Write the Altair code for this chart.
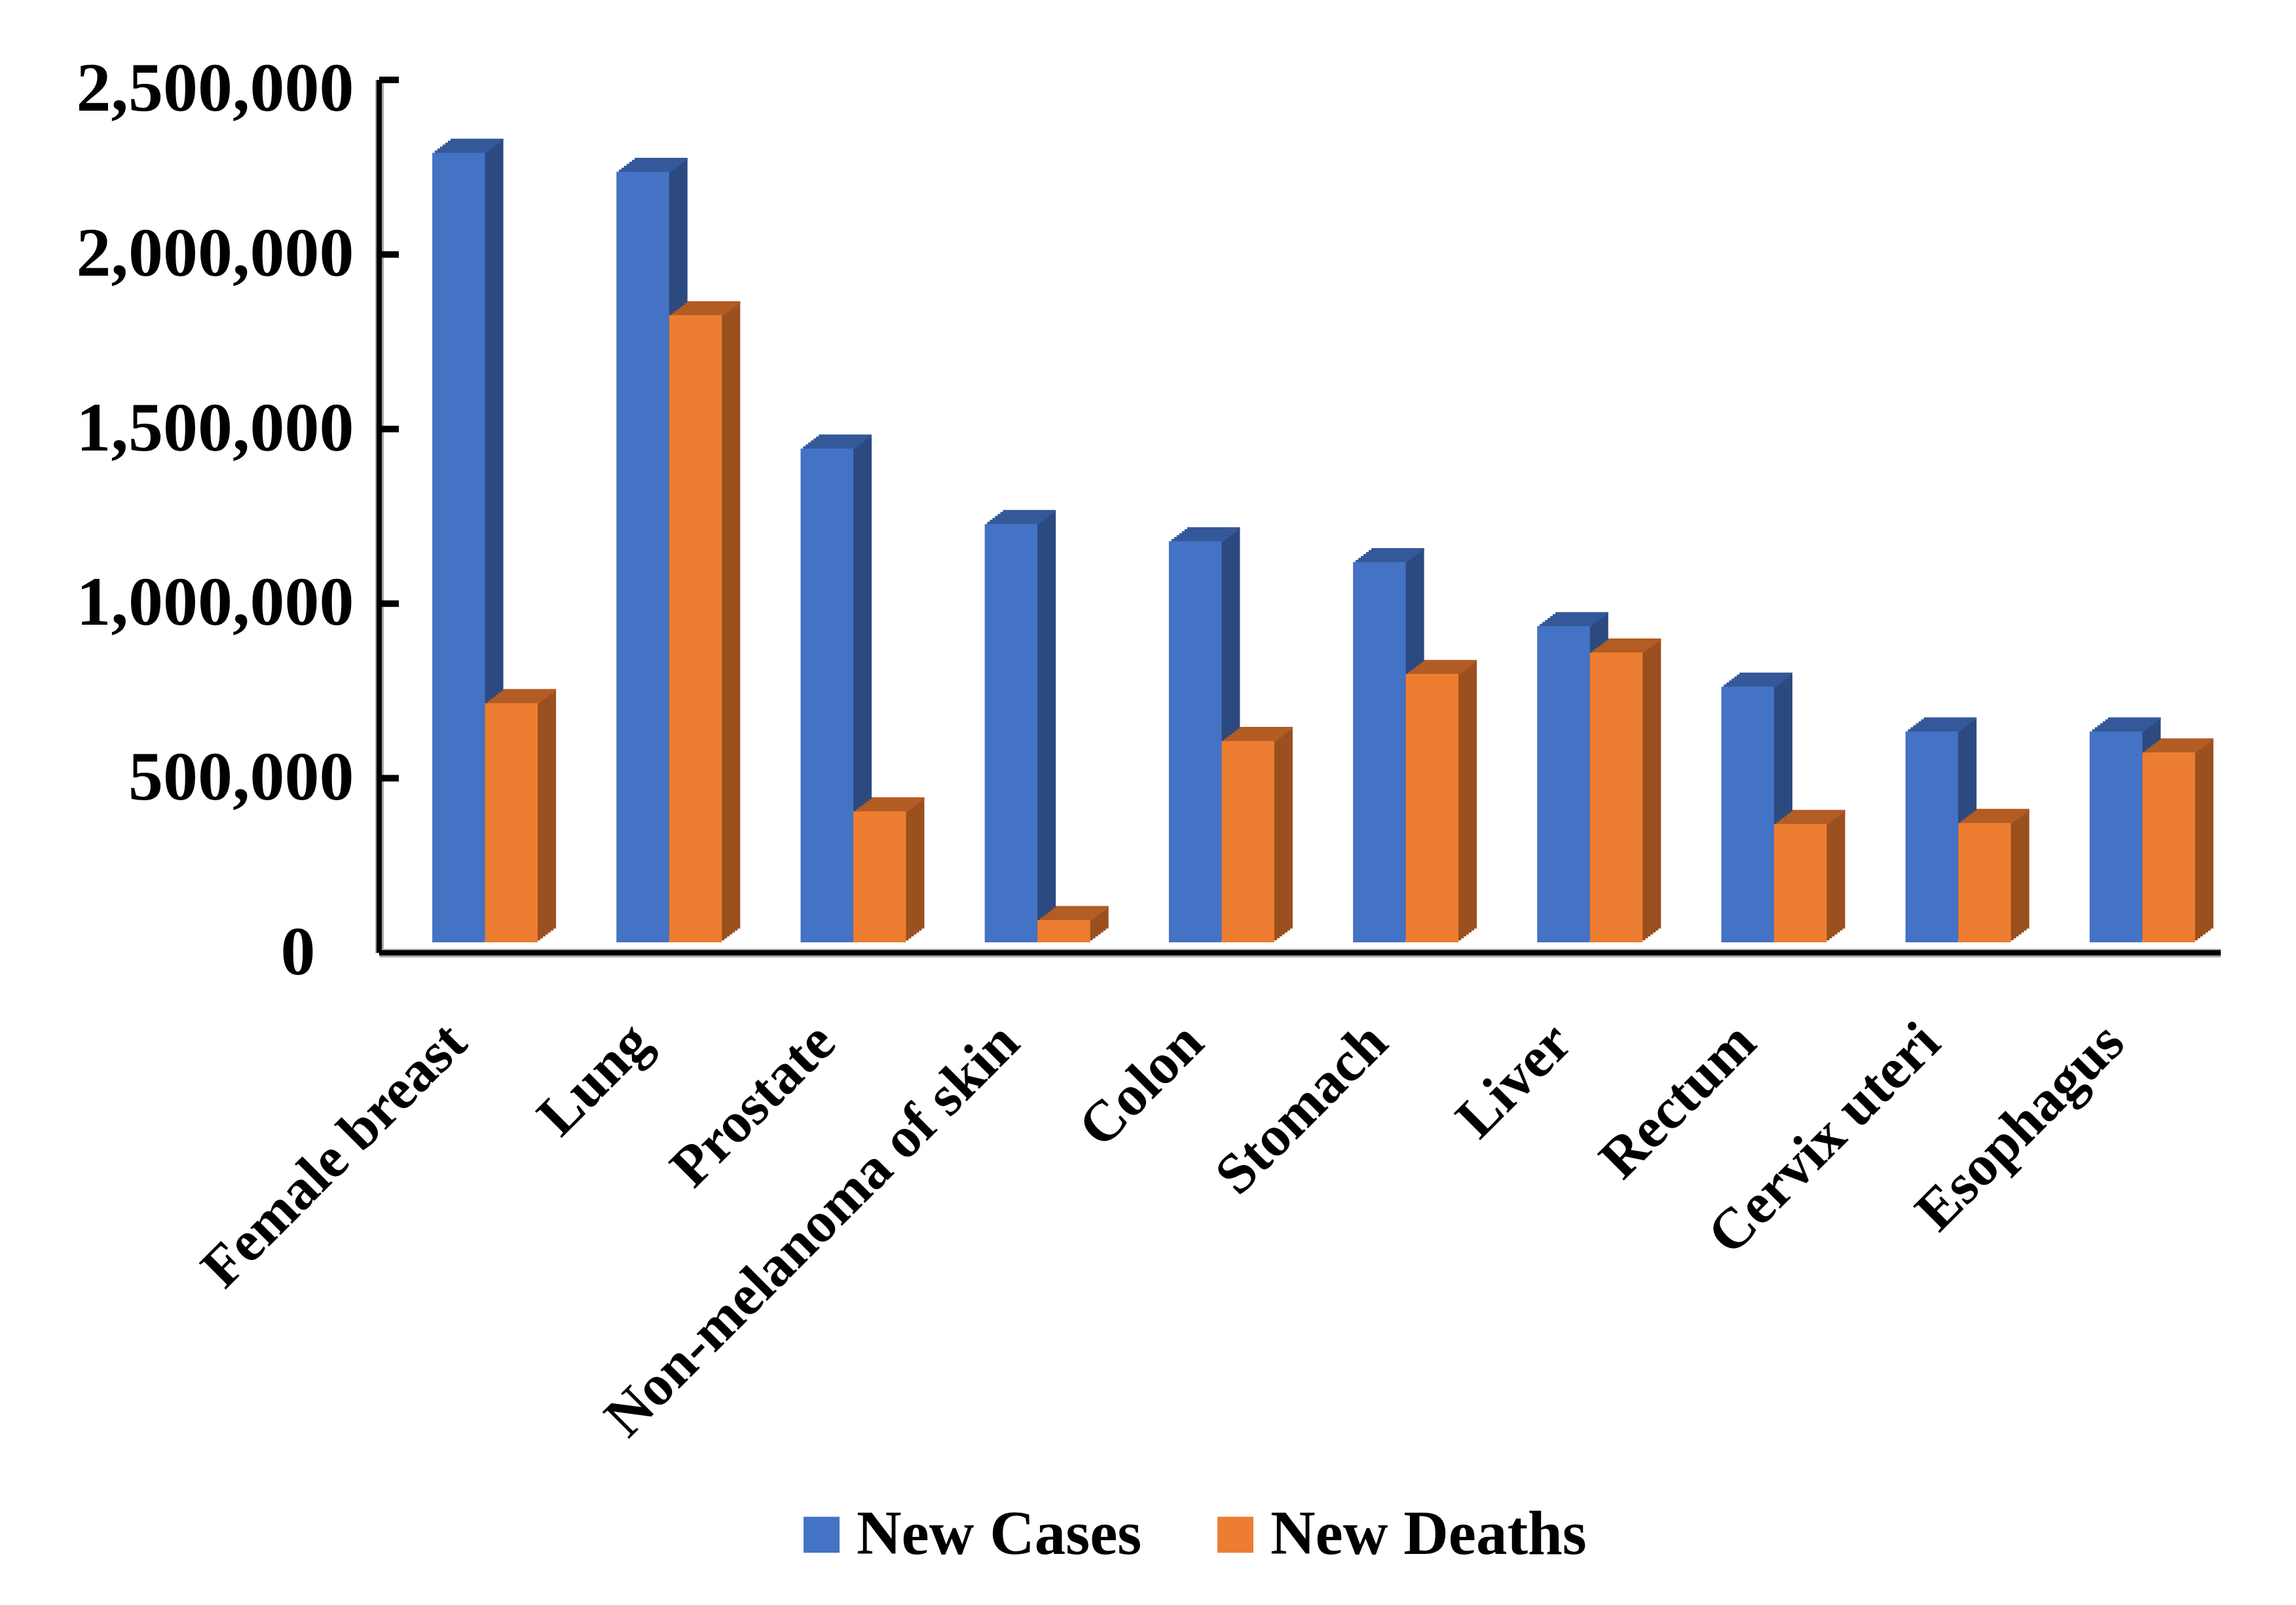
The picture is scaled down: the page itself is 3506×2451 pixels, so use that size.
import altair as alt
import pandas as pd

# ---------------- data ----------------
categories = ["Female breast", "Lung", "Prostate", "Non-melanoma of skin", "Colon",
              "Stomach", "Liver", "Rectum", "Cervix uteri", "Esophagus"]
new_cases = [2261419, 2206771, 1414259, 1198073, 1148515, 1089103, 905677, 732210, 604127, 604100]
new_deaths = [684996, 1796144, 375304, 63731, 576858, 768793, 830180, 339022, 341831, 544076]
series_names = ["New Cases", "New Deaths"]
y_ticks = [0, 500000, 1000000, 1500000, 2000000, 2500000]

rows = []
for c, a, b in zip(categories, new_cases, new_deaths):
    rows.append({"category": c, "series": series_names[0], "value": a})
    rows.append({"category": c, "series": series_names[1], "value": b})
df = pd.DataFrame(rows)
tick_df = pd.DataFrame({"tick": y_ticks[1:]})
one_df = pd.DataFrame({"z": [0]})

# ---------------- style ----------------
FRONT = ["#4472C4", "#ED7D31"]
TOP = ["#34589A", "#B35C24"]
SIDE = ["#2C4A80", "#9A501F"]
FONT = "Liberation Serif"

W, H = 2812, 1333
BAR_W = 80.5
SHIFT = 21          # group shift to the right (px)
BASE = -16          # front faces sit slightly above the floor
N = 7               # steps used to draw the depth
SX, SY = 4, 3       # depth per step (px)

y_axis = alt.Axis(values=y_ticks, format=",", labelExpr="format(datum.value, ',')",
                  ticks=False, tickSize=0, grid=False,
                  labelFont=FONT, labelFontSize=106, labelFontWeight="bold", labelColor="black",
                  labelLimit=2000,
                  labelPadding={"condition": {"test": "datum.value === 0", "value": 98}, "value": 39},
                  labelOffset={"condition": {"test": "datum.value === 2500000", "value": 14}, "value": 0},
                  domainColor="#a6a6a6", domainWidth=13)
y_scale = alt.Scale(domain=[0, 2500000], nice=False, zero=True)

x_enc = alt.X("category:N", sort=categories, title=None,
              scale=alt.Scale(paddingInner=0, paddingOuter=0),
              axis=alt.Axis(labelAngle=-45, labelAlign="right", labelBaseline="top",
                            labelPadding=92, labelOffset=-52, ticks=False, tickSize=0,
                            labelFont=FONT, labelFontSize=88, labelFontWeight="bold",
                            labelColor="black", labelLimit=3000,
                            domainColor="#a6a6a6", domainWidth=13, grid=False))
y_enc = alt.Y("value:Q", title=None, scale=y_scale, axis=y_axis)

base = alt.Chart(df)
layers = []
sides = [(-BAR_W / 2 + SHIFT), (BAR_W / 2 + SHIFT)]

# depth (side faces) drawn back to front
for k in range(N, 0, -1):
    for i, s in enumerate(series_names):
        layers.append(
            base.transform_filter(alt.datum.series == s)
            .mark_bar(color=SIDE[i], width=BAR_W, xOffset=sides[i] + k * SX, yOffset=BASE - k * SY)
            .encode(x=x_enc, y=y_enc)
        )

# top faces
for k in range(N, 0, -1):
    for i, s in enumerate(series_names):
        layers.append(
            base.transform_filter(alt.datum.series == s)
            .mark_tick(color=TOP[i], size=BAR_W, thickness=SY + 0.8, orient="horizontal",
                       xOffset=sides[i] + k * SX, yOffset=BASE - (k - 0.5) * SY, opacity=1)
            .encode(x=x_enc, y=y_enc)
        )

# front faces (with legend)
color_enc = alt.Color("series:N", sort=series_names,
                      scale=alt.Scale(domain=series_names, range=FRONT),
                      legend=alt.Legend(orient="none", legendX=628, legendY=2174,
                                        direction="horizontal", title=None,
                                        symbolType="square", symbolSize=3025,
                                        symbolStrokeWidth=0, labelFont=FONT,
                                        labelFontSize=95, labelFontWeight="bold",
                                        labelColor="black", labelOffset=6,
                                        columnPadding=95, padding=0, labelLimit=3000))
for i, s in enumerate(series_names):
    layers.append(
        base.transform_filter(alt.datum.series == s)
        .mark_bar(width=BAR_W, xOffset=sides[i], yOffset=BASE)
        .encode(x=x_enc, y=y_enc, color=color_enc)
    )

# axis lines (black over grey domain) and inward ticks
layers.append(alt.Chart(one_df).mark_rule(color="black", strokeWidth=8)
              .encode(y=alt.Y(datum=0, scale=y_scale, axis=y_axis, title=None)))
layers.append(alt.Chart(one_df).mark_rule(color="black", strokeWidth=8)
              .encode(x=alt.value(0)))
layers.append(alt.Chart(tick_df).mark_rule(color="black", strokeWidth=10)
              .encode(y=alt.Y("tick:Q", scale=y_scale, axis=y_axis, title=None),
                      x=alt.value(0), x2=alt.value(30)))

chart = alt.layer(*layers).properties(
    width=W, height=H,
    autosize=alt.AutoSizeParams(type="none"),
    padding={"left": 571, "top": 114, "right": 107, "bottom": 983},
    background="white",
).configure_view(stroke=None)

chart.save("out.html", embed_options={"renderer": "svg", "actions": False})
